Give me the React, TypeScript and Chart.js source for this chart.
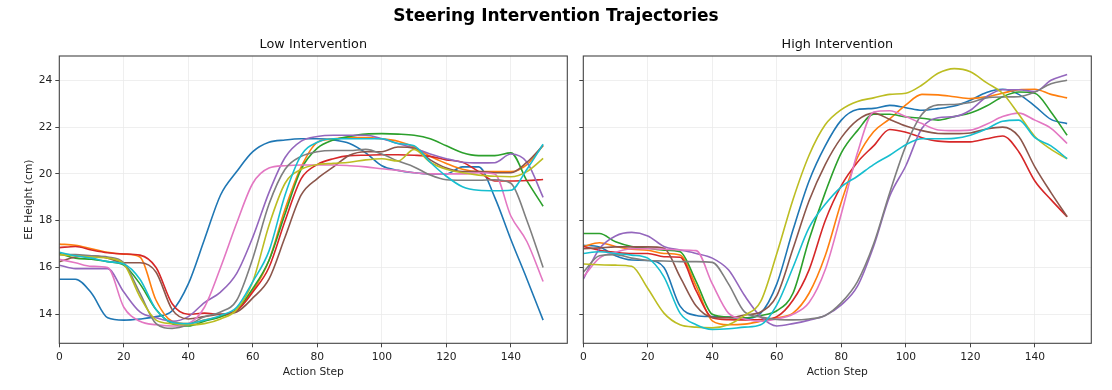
import React, { useEffect, useRef } from "react";
import { Chart, registerables } from "chart.js";

Chart.register(...registerables);
Chart.defaults.font.family = "'DejaVu Sans', sans-serif";

// ---- data ----
const steps = [0, 5, 10, 15, 20, 25, 30, 35, 40, 45, 50, 55, 60, 65, 70, 75, 80, 85, 90, 95, 100, 105, 110, 115, 120, 125, 130, 135, 140, 145, 150];

const lowRun0 = [15.5, 15.5, 14.9, 13.85, 13.75, 13.8, 13.9, 14.15, 15.3, 17.2, 19.1, 20.1, 20.95, 21.35, 21.45, 21.5, 21.5, 21.45, 21.3, 20.9, 20.35, 20.15, 20.05, 20.0, 20.0, 20.3, 20.3, 19.0, 17.2, 15.5, 13.75];
const lowRun1 = [17.0, 16.95, 16.8, 16.65, 16.57, 16.45, 14.6, 13.7, 13.6, 13.75, 13.9, 14.2, 15.0, 16.3, 18.5, 20.3, 21.35, 21.5, 21.55, 21.55, 21.5, 21.4, 21.15, 20.75, 20.45, 20.2, 20.1, 20.1, 20.1, 20.4, 21.22];
const lowRun2 = [16.6, 16.4, 16.35, 16.25, 16.1, 15.3, 14.2, 13.6, 13.5, 13.7, 13.9, 14.2, 15.1, 16.3, 18.3, 20.2, 21.1, 21.45, 21.6, 21.7, 21.72, 21.7, 21.65, 21.5, 21.2, 20.9, 20.78, 20.78, 20.9, 19.7, 18.62];
const lowRun3 = [16.85, 16.9, 16.75, 16.63, 16.58, 16.53, 16.0, 14.45, 14.0, 14.05, 14.0, 14.15, 14.95, 16.0, 18.0, 19.8, 20.4, 20.65, 20.78, 20.8, 20.82, 20.82, 20.8, 20.75, 20.6, 20.5, 20.1, 19.7, 19.7, 19.72, 19.76];
const lowRun4 = [16.1, 15.95, 15.95, 15.95, 14.95, 14.1, 13.85, 13.7, 13.9, 14.5, 14.95, 15.75, 17.3, 19.2, 20.7, 21.4, 21.6, 21.65, 21.65, 21.65, 21.5, 21.3, 21.1, 20.85, 20.65, 20.5, 20.47, 20.48, 20.85, 20.5, 19.0];
const lowRun5 = [16.25, 16.45, 16.5, 16.4, 16.2, 16.2, 15.8, 14.2, 13.8, 13.9, 14.0, 14.1, 14.7, 15.5, 17.3, 19.1, 19.8, 20.3, 20.8, 20.95, 20.95, 21.15, 21.1, 20.6, 20.25, 20.1, 20.1, 20.05, 20.05, 20.5, 21.22];
const lowRun6 = [16.35, 16.2, 16.05, 16.0, 14.3, 13.7, 13.55, 13.5, 13.6, 14.3, 16.0, 17.9, 19.6, 20.25, 20.35, 20.38, 20.38, 20.38, 20.35, 20.3, 20.22, 20.15, 20.05, 20.0, 20.0, 20.0, 20.05, 20.0, 18.2, 17.1, 15.4];
const lowRun7 = [16.55, 16.55, 16.5, 16.45, 16.2, 14.9, 13.6, 13.4, 13.55, 13.9, 14.1, 14.6, 16.4, 18.7, 20.2, 20.75, 20.95, 21.0, 21.0, 21.05, 20.85, 20.55, 20.3, 19.95, 19.75, 19.73, 19.73, 19.75, 19.6, 18.0, 16.0];
const lowRun8 = [16.55, 16.5, 16.45, 16.4, 16.15, 14.75, 13.75, 13.6, 13.55, 13.6, 13.8, 14.2, 15.4, 17.8, 19.6, 20.2, 20.4, 20.45, 20.5, 20.6, 20.65, 20.55, 21.05, 20.5, 20.2, 20.05, 19.95, 19.9, 19.88, 20.1, 20.66];
const lowRun9 = [16.65, 16.5, 16.4, 16.25, 16.15, 15.5, 14.2, 13.65, 13.6, 13.75, 13.95, 14.3, 15.4, 16.7, 19.1, 20.8, 21.35, 21.5, 21.5, 21.5, 21.5, 21.3, 21.2, 20.5, 19.9, 19.45, 19.3, 19.28, 19.3, 20.2, 21.27];

const highRun0 = [16.95, 16.88, 16.5, 16.32, 16.3, 16.0, 14.35, 13.95, 13.9, 13.88, 13.83, 14.05, 15.3, 17.6, 19.7, 21.2, 22.3, 22.75, 22.8, 22.93, 22.83, 22.72, 22.79, 22.9, 23.15, 23.48, 23.62, 23.4, 22.9, 22.33, 22.15];
const highRun1 = [16.9, 17.06, 16.9, 16.78, 16.74, 16.6, 16.53, 15.2, 13.72, 13.55, 13.58, 13.7, 13.85, 14.05, 14.9, 16.5, 18.8, 20.7, 21.8, 22.35, 22.95, 23.4, 23.38, 23.3, 23.22, 23.3, 23.45, 23.6, 23.62, 23.4, 23.25];
const highRun2 = [17.45, 17.45, 17.1, 16.9, 16.82, 16.74, 16.67, 15.4, 14.0, 13.88, 13.85, 13.95, 14.15, 14.9, 17.2, 19.2, 20.9, 21.85, 22.55, 22.55, 22.43, 22.38, 22.3, 22.45, 22.6, 22.9, 23.3, 23.5, 23.45, 22.65, 21.65];
const highRun3 = [16.9, 16.74, 16.65, 16.6, 16.6, 16.46, 16.44, 15.0, 13.85, 13.77, 13.76, 13.78, 13.9, 14.6, 15.9, 18.0, 19.5, 20.5, 21.2, 21.9, 21.78, 21.55, 21.4, 21.37, 21.37, 21.5, 21.62, 20.95, 19.7, 18.9, 18.17];
const highRun4 = [15.5, 16.8, 17.35, 17.5, 17.35, 16.9, 16.75, 16.6, 16.4, 15.9, 14.8, 13.9, 13.5, 13.6, 13.75, 13.95, 14.4, 15.2, 16.9, 19.05, 20.35, 21.95, 22.4, 22.45, 22.72, 23.3, 23.6, 23.6, 23.52, 24.0, 24.25];
const highRun5 = [16.8, 16.84, 16.88, 16.88, 16.88, 16.82, 15.6, 14.35, 13.87, 13.85, 13.97, 14.1, 14.8, 16.8, 18.85, 20.4, 21.55, 22.3, 22.6, 22.33, 22.05, 21.85, 21.73, 21.72, 21.75, 21.92, 22.0, 21.6, 20.3, 19.2, 18.17];
const highRun6 = [15.6, 16.4, 16.65, 16.8, 16.8, 16.78, 16.75, 16.72, 15.3, 14.05, 13.8, 13.7, 13.8, 14.0, 14.5, 15.9, 18.3, 20.9, 22.65, 22.7, 22.45, 22.15, 21.88, 21.85, 21.87, 22.12, 22.45, 22.6, 22.3, 21.95, 21.3];
const highRun7 = [15.8, 16.5, 16.55, 16.4, 16.3, 16.28, 16.25, 16.25, 16.22, 15.3, 14.1, 13.88, 13.78, 13.76, 13.8, 13.95, 14.5, 15.4, 17.0, 19.2, 21.2, 22.55, 22.95, 22.97, 23.05, 23.25, 23.29, 23.3, 23.5, 23.85, 24.0];
const highRun8 = [16.15, 16.12, 16.1, 16.05, 15.1, 14.05, 13.55, 13.45, 13.42, 13.55, 13.95, 14.55, 16.6, 18.9, 20.8, 22.1, 22.75, 23.1, 23.25, 23.4, 23.45, 23.8, 24.3, 24.5, 24.37, 23.9, 23.45, 22.55, 21.6, 21.05, 20.65];
const highRun9 = [16.6, 16.67, 16.6, 16.53, 16.4, 15.6, 14.05, 13.55, 13.35, 13.38, 13.45, 13.55, 14.4, 16.0, 17.7, 18.7, 19.45, 19.9, 20.4, 20.8, 21.25, 21.5, 21.5, 21.52, 21.65, 21.92, 22.25, 22.3, 21.55, 21.2, 20.65];

const lowRuns = [lowRun0, lowRun1, lowRun2, lowRun3, lowRun4, lowRun5, lowRun6, lowRun7, lowRun8, lowRun9];
const highRuns = [highRun0, highRun1, highRun2, highRun3, highRun4, highRun5, highRun6, highRun7, highRun8, highRun9];

const runColors = ["#1f77b4", "#ff7f0e", "#2ca02c", "#d62728", "#9467bd", "#8c564b", "#e377c2", "#7f7f7f", "#bcbd22", "#17becf"];

const figureTitle = "Steering Intervention Trajectories";
const panelTitles = ["Low Intervention", "High Intervention"];
const xLabel = "Action Step";
const yLabel = "EE Height (cm)";

// ---- helpers ----
const spinePlugin = {
  id: "spines",
  afterDatasetsDraw(chart: any) {
    const { ctx, chartArea } = chart;
    const { left, top, right, bottom } = chartArea;
    ctx.save();
    ctx.strokeStyle = "#444";
    ctx.lineWidth = 1.1;
    ctx.strokeRect(left, top, right - left, bottom - top);
    ctx.restore();
  },
};

type PanelProps = {
  title: string;
  runs: number[][];
  showY: boolean;
  width: number;
  yAxisWidth: number;
  padRight: number;
};

function Panel({ title, runs, showY, width, yAxisWidth, padRight }: PanelProps) {
  const ref = useRef<HTMLCanvasElement | null>(null);

  useEffect(() => {
    if (!ref.current) return;
    const datasets = runs.map((vals, i) => ({
      label: `run ${i}`,
      data: vals.map((v, j) => ({ x: steps[j], y: v })),
      borderColor: runColors[i],
      backgroundColor: runColors[i],
      borderWidth: 1.6,
      pointRadius: 0,
      fill: false,
      cubicInterpolationMode: "monotone" as const,
      order: runs.length - i,
    }));

    const chart = new Chart(ref.current, {
      type: "line",
      data: { datasets },
      options: {
        animation: false,
        responsive: false,
        devicePixelRatio: 1,
        layout: { padding: { top: 30, right: padRight, left: 0, bottom: 0 } },
        plugins: {
          legend: { display: false },
          tooltip: { enabled: false },
          title: {
            display: true,
            text: title,
            fullSize: false,
            color: "#111",
            font: { size: 12.8, weight: "normal" },
            padding: { top: 7.4, bottom: 3.24 },
          },
        },
        scales: {
          x: {
            type: "linear",
            min: 0,
            max: 157.5,
            afterFit: (s: any) => {
              s.height = 46.7;
            },
            ticks: {
              stepSize: 20,
              includeBounds: false,
              color: "#222",
              font: { size: 10.7 },
              padding: 4,
              maxRotation: 0,
              autoSkip: false,
            },
            grid: {
              color: "#ebebeb",
              lineWidth: 0.8,
              tickLength: 4,
              tickColor: "#444",
              tickWidth: 1,
            },
            border: { display: false },
            title: {
              display: true,
              text: xLabel,
              color: "#222",
              font: { size: 10.7 },
              padding: { top: 0, bottom: 11.3 },
            },
          },
          y: {
            type: "linear",
            min: 12.76,
            max: 25.04,
            afterFit: (s: any) => {
              s.width = yAxisWidth;
            },
            ticks: {
              stepSize: 2,
              includeBounds: false,
              display: showY,
              color: "#222",
              font: { size: 10.7 },
              padding: 3,
            },
            grid: {
              color: "#ebebeb",
              lineWidth: 0.8,
              tickLength: 4,
              tickColor: "#444",
              tickWidth: 1,
            },
            border: { display: false },
            title: {
              display: showY,
              text: yLabel,
              color: "#222",
              font: { size: 10.7 },
              padding: { top: 23.2, bottom: 0 },
            },
          },
        },
      },
      plugins: [spinePlugin],
    });
    return () => chart.destroy();
  }, [title, runs, showY, width, yAxisWidth, padRight]);

  return <canvas ref={ref} width={width} height={390} style={{ display: "block", width, height: 390 }} />;
}

export default function App() {
  return (
    <div style={{ position: "absolute", left: 0, top: 0, width: 1112, height: 390, background: "#fff", overflow: "hidden" }}>
      <div
        style={{
          position: "absolute",
          left: 0,
          top: 7,
          width: 1112,
          textAlign: "center",
          fontFamily: "'DejaVu Sans', sans-serif",
          fontWeight: "bold",
          fontSize: 17,
          lineHeight: "17px",
          color: "#000",
          zIndex: 2,
        }}
      >
        {figureTitle}
      </div>
      <div style={{ position: "absolute", left: 0, top: 0 }}>
        <Panel title={panelTitles[0]} runs={lowRuns} showY={true} width={575} yAxisWidth={59.3} padRight={7.7} />
      </div>
      <div style={{ position: "absolute", left: 575, top: 0 }}>
        <Panel title={panelTitles[1]} runs={highRuns} showY={false} width={537} yAxisWidth={8.3} padRight={20.7} />
      </div>
    </div>
  );
}
